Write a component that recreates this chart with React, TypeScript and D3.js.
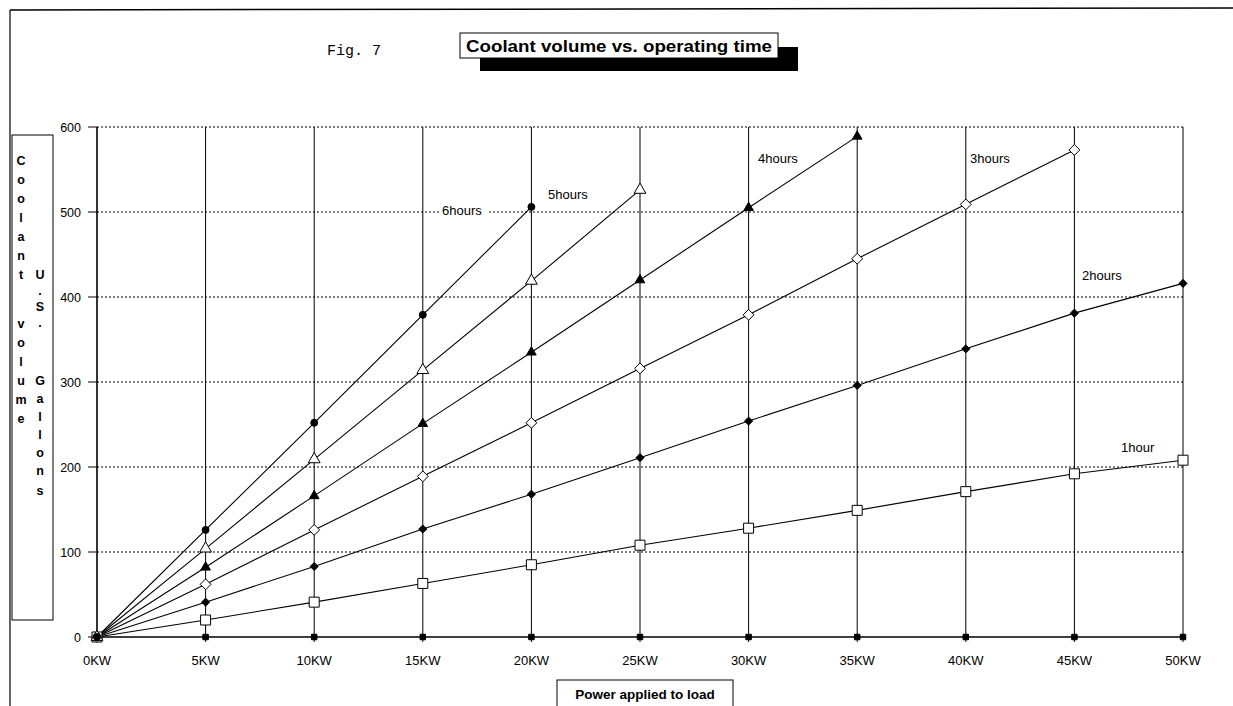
import * as d3 from "d3";

// power axis (KW) and tick labels
const powerKW = [0, 5, 10, 15, 20, 25, 30, 35, 40, 45, 50];
const xTickLabels = ["0KW", "5KW", "10KW", "15KW", "20KW", "25KW", "30KW", "35KW", "40KW", "45KW", "50KW"];
const yTicks = [0, 100, 200, 300, 400, 500, 600];

// coolant volume (U.S. gallons)
const hours0 = [0, 0, 0, 0, 0, 0, 0, 0, 0, 0, 0];
const hours1 = [0, 20, 41, 63, 85, 108, 128, 149, 171, 192, 208];
const hours2 = [0, 41, 83, 127, 168, 211, 254, 296, 339, 381, 416];
const hours3 = [0, 62, 126, 189, 252, 316, 379, 445, 509, 573];
const hours4 = [0, 82, 166, 251, 335, 420, 505, 589];
const hours5 = [0, 104, 209, 314, 419, 526];
const hours6 = [0, 126, 252, 379, 506];

const seriesNames = ["", "1hour", "2hours", "3hours", "4hours", "5hours", "6hours"];

const W = 1233;
const H = 706;
const plot = { left: 97, right: 1183, top: 127, bottom: 637 };
const sans = "'Liberation Sans', Arial, sans-serif";

type Marker = { type: d3.SymbolType; size: number; filled: boolean };

// square-ish diamond (rotated square) when available
const diamond: d3.SymbolType = (d3 as any).symbolDiamond2 ?? d3.symbolDiamond;

export default function App() {
    const x = d3.scaleLinear().domain([0, 50]).range([plot.left, plot.right]);
    const y = d3.scaleLinear().domain([0, 600]).range([plot.bottom, plot.top]);

    const series = [hours0, hours1, hours2, hours3, hours4, hours5, hours6];
    const markers: Marker[] = [
        { type: d3.symbolSquare, size: 30, filled: true },
        { type: d3.symbolSquare, size: 100, filled: false },
        { type: diamond, size: 42, filled: true },
        { type: diamond, size: 75, filled: false },
        { type: d3.symbolTriangle, size: 40, filled: true },
        { type: d3.symbolTriangle, size: 60, filled: false },
        { type: d3.symbolCircle, size: 38, filled: true },
    ];

    // label placement (left x, center y) for each series name
    const labelPos: [number, number][] = [
        [0, 0],
        [1121, 447],
        [1082, 275],
        [970, 158],
        [758, 158],
        [548, 194],
        [442, 210],
    ];

    const line = d3
        .line<number>()
        .x((_, i) => x(powerKW[i]))
        .y((d) => y(d));

    const col1 = "Coolant volume".split("");
    const col1Y = [160, 179, 198, 217, 236, 255, 274, 0, 323, 342, 361, 380, 399, 418];
    const col2 = "U.S. Gallons".split("");
    const col2Y = [274, 290, 306, 322, 0, 380, 398, 416, 434, 452, 470, 490];

    return (
        <svg
            width={W}
            height={H}
            style={{ position: "absolute", left: 0, top: 0, display: "block", background: "#fff" }}
        >
            {/* scan border */}
            <line x1={10} y1={10} x2={W} y2={8} stroke="#000" strokeWidth={1.5} />
            <line x1={10} y1={10} x2={10} y2={H} stroke="#000" strokeWidth={1.2} />

            {/* title */}
            <text x={327} y={55} fontFamily="'Liberation Mono', 'Courier New', monospace" fontSize={15}>
                Fig. 7
            </text>
            <rect x={480} y={47} width={318} height={24} fill="#000" />
            <rect x={460} y={33} width={318} height={25} fill="#fff" stroke="#000" strokeWidth={1} />
            <text
                x={466}
                y={52}
                textLength={306}
                lengthAdjust="spacingAndGlyphs"
                fontFamily={sans}
                fontSize={17}
                fontWeight={600}
            >
                Coolant volume vs. operating time
            </text>

            {/* horizontal gridlines */}
            {yTicks.slice(1).map((t) => (
                <line
                    key={"h" + t}
                    x1={plot.left}
                    x2={plot.right}
                    y1={y(t)}
                    y2={y(t)}
                    stroke="#000"
                    strokeWidth={1}
                    strokeDasharray="2,2"
                />
            ))}
            {/* vertical gridlines */}
            {powerKW.slice(1).map((p) => (
                <line key={"v" + p} x1={x(p)} x2={x(p)} y1={plot.top} y2={plot.bottom} stroke="#000" strokeWidth={1} />
            ))}

            {/* y axis */}
            <line x1={plot.left} x2={plot.left} y1={plot.top} y2={plot.bottom} stroke="#000" strokeWidth={1.6} />
            {yTicks.map((t) => (
                <g key={"yt" + t}>
                    <line x1={plot.left - 9} x2={plot.left} y1={y(t)} y2={y(t)} stroke="#000" strokeWidth={1} />
                    <text x={81} y={y(t) + 4.5} textAnchor="end" fontFamily={sans} fontSize={12.5}>
                        {t}
                    </text>
                </g>
            ))}

            {/* x axis labels */}
            {powerKW.map((p, i) => (
                <g key={"xt" + p}>
                    <line x1={x(p)} x2={x(p)} y1={plot.bottom} y2={plot.bottom + 5} stroke="#000" strokeWidth={1} />
                    <text x={x(p)} y={665} textAnchor="middle" fontFamily={sans} fontSize={13}>
                        {xTickLabels[i]}
                    </text>
                </g>
            ))}

            {/* series lines */}
            {series.map((s, si) => (
                <path
                    key={"l" + si}
                    d={line(s) ?? ""}
                    fill="none"
                    stroke="#000"
                    strokeWidth={si === 0 ? 1.6 : 1.1}
                />
            ))}

            {/* markers */}
            {series.map((s, si) =>
                s.map((v, i) => (
                    <path
                        key={"m" + si + "-" + i}
                        transform={`translate(${x(powerKW[i])},${y(v)})`}
                        d={d3.symbol().type(markers[si].type).size(markers[si].size)() ?? ""}
                        fill={markers[si].filled ? "#000" : "#fff"}
                        stroke="#000"
                        strokeWidth={1}
                    />
                ))
            )}

            {/* series labels */}
            {seriesNames.map((n, si) =>
                n ? (
                    <g key={"lab" + si}>
                        <rect
                            x={labelPos[si][0] - 1}
                            y={labelPos[si][1] - 7}
                            width={n.length * 7.6 + 2}
                            height={14}
                            fill="#fff"
                        />
                        <text x={labelPos[si][0]} y={labelPos[si][1] + 4.5} fontFamily={sans} fontSize={13}>
                            {n}
                        </text>
                    </g>
                ) : null
            )}

            {/* y axis title box */}
            <rect x={12} y={135} width={41} height={485} fill="#fff" stroke="#000" strokeWidth={1} />
            {col1.map((c, i) =>
                c.trim() ? (
                    <text key={"c1" + i} x={21} y={col1Y[i] + 5} textAnchor="middle" fontFamily={sans} fontSize={12.5} fontWeight={700}>
                        {c}
                    </text>
                ) : null
            )}
            {col2.map((c, i) =>
                c.trim() ? (
                    <text key={"c2" + i} x={40} y={col2Y[i] + 5} textAnchor="middle" fontFamily={sans} fontSize={12.5} fontWeight={700}>
                        {c}
                    </text>
                ) : null
            )}

            {/* x axis title box */}
            <rect x={557} y={680} width={176} height={30} fill="#fff" stroke="#000" strokeWidth={1} />
            <text x={645} y={699} textAnchor="middle" fontFamily={sans} fontSize={13.5} fontWeight={600}>
                Power applied to load
            </text>
        </svg>
    );
}
